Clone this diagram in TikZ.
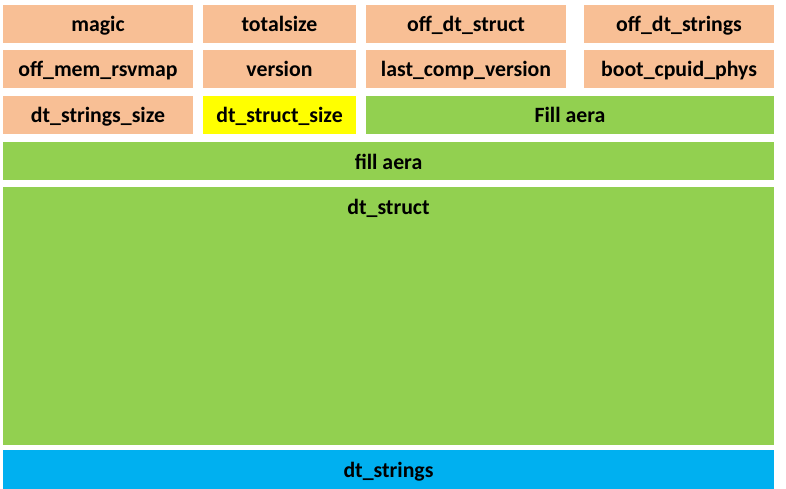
\documentclass[tikz,border=0pt]{standalone}
\usepackage{fontspec}
\setmainfont{Carlito}
\usepackage{tikz}

\definecolor{peach}{HTML}{F8BF95}
\definecolor{grass}{HTML}{92D050}
\definecolor{lemon}{HTML}{FFFF00}
\definecolor{sky}{HTML}{00B0F0}

\begin{document}
\begin{tikzpicture}[x=1pt, y=-1pt,
  cell/.style={inner sep=0pt, minimum height=38pt, text height=16pt, text depth=0pt,
               font=\fontsize{21.8}{24}\selectfont\bfseries},
  hdr/.style={cell, fill=peach},
  fld/.style={cell, fill=grass}]

\useasboundingbox (0,0) rectangle (786,489);

% first row
\node [hdr, minimum width=190pt] (magic)     at (98, 24)  {magic};
\node [hdr, minimum width=153pt] (totalsize) at (279.5, 24) {totalsize};
\node [hdr, minimum width=200pt] (offstruct) at (466, 24) {off\_dt\_struct};
\node [hdr, minimum width=190pt] (offstrings) at (679, 24) {off\_dt\_strings};

% second row
\node [hdr, minimum width=190pt] (offrsv)    at (98, 69)  {off\_mem\_rsvmap};
\node [hdr, minimum width=153pt] (version)   at (279.5, 69) {version};
\node [hdr, minimum width=200pt] (lastcomp)  at (466, 69) {last\_comp\_version};
\node [hdr, minimum width=190pt] (bootcpu)   at (679, 69) {boot\_cpuid\_phys};

% third row
\node [hdr, minimum width=190pt] (strsize)   at (98, 115) {dt\_strings\_size};
\node [cell, fill=lemon, minimum width=153pt] (structsize) at (279.5, 115) {dt\_struct\_size};
\node [fld, minimum width=408pt] (fillone)   at (570, 115) {Fill aera};

% blocks
\node [fld, minimum width=771pt] (filltwo)   at (388.5, 161) {fill aera};
\node [fld, minimum width=771pt, minimum height=258pt,
       label={[cell, anchor=north]north:dt\_struct}] (dtstruct) at (388.5, 316) {};
\node [cell, fill=sky, minimum width=771pt, minimum height=39pt] (dtstrings) at (388.5, 469.5) {dt\_strings};

\end{tikzpicture}
\end{document}
